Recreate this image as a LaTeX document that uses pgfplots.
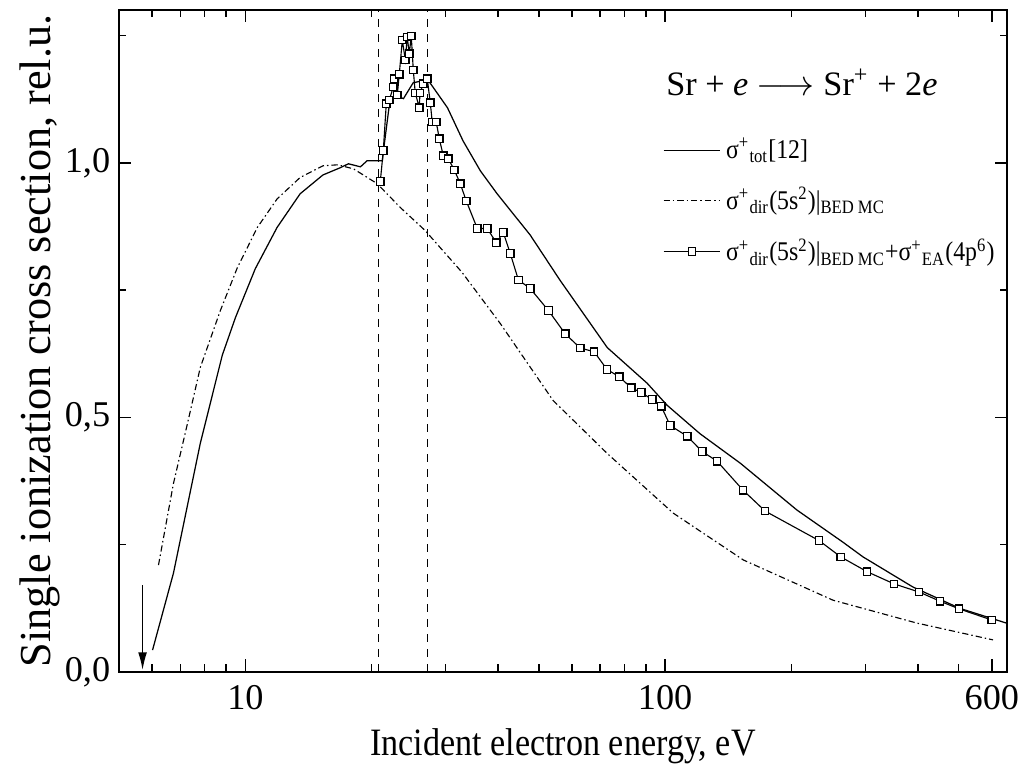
\documentclass[border=0pt]{standalone}
\usepackage{fontspec}
\setmainfont{Liberation Serif}
\newfontfamily\legfont[FakeStretch=0.88]{Liberation Serif}
\usepackage{pgfplots}
\pgfplotsset{compat=1.18}
\usetikzlibrary{arrows.meta,calc}

% open square with a dot in the middle
\pgfdeclareplotmark{sqdot}{%
  \pgfpathrectangle{\pgfpoint{-\pgfplotmarksize}{-\pgfplotmarksize}}{\pgfpoint{2\pgfplotmarksize}{2\pgfplotmarksize}}%
  \pgfusepathqfillstroke
  \pgfpathcircle{\pgfpointorigin}{0.3pt}\pgfusepathqfill}

\newcommand{\sig}{σ\textsuperscript{+}}

\begin{document}
\begin{tikzpicture}
\begin{axis}[
  xmode=log,
  scale only axis, width=355.2pt, height=264.8pt,
  xmin=5, xmax=652, ymin=0, ymax=1.3,
  xtick={10,100,600}, xticklabels={10,100,600},
  minor xtick={6,7,8,9,20,30,40,50,60,70,80,90,200,300,400,500},
  ytick={0,0.5,1}, minor ytick={0.25,0.75,1.25},
  /pgf/number format/assume math mode=true,
  yticklabel={\pgfmathprintnumber[fixed,fixed zerofill,precision=1,use comma]{\tick}},
  tick align=inside,
  major tick length=5pt, minor tick length=3pt,
  axis line style={line width=0.8pt},
  every tick/.style={black, line width=0.6pt},
  tick label style={font=\fontsize{14.5}{16}\selectfont},
  xticklabel style={yshift=-2pt},
  xlabel={Incident electron energy, eV},
  ylabel={Single ionization cross section, rel.u.},
  xlabel style={font=\legfont\fontsize{15.5}{17}\selectfont, at={(axis description cs:0.5,-0.112)}, anchor=center},
  ylabel style={font=\fontsize{17.7}{20}\selectfont, at={(axis description cs:-0.089,0.5)}, anchor=center},
  legend style={draw=none, fill=none, at={(0.612,0.815)}, anchor=north west,
    font=\legfont\fontsize{10.8}{13}\selectfont, row sep=6pt, inner sep=0pt,
    cells={anchor=west}},
  legend image code/.code={\draw[mark repeat=2,mark phase=2,#1]
    plot coordinates {(0cm,0cm) (0.4cm,0cm) (0.8cm,0cm)};},
]
\addplot[black, line width=0.5pt] coordinates {
(6.01,0.043) (6.74,0.194) (7.81,0.449) (8.81,0.622) (9.47,0.696)
(10.56,0.792) (11.9,0.873) (13.5,0.939) (15.3,0.976) (16.8,0.990)
(17.6,0.998) (18.8,0.992) (19.5,1.004) (21.2,1.004) (21.3,1.02)
(22.1,1.123) (22.9,1.131) (23.8,1.126) (25.1,1.157) (26.4,1.161)
(27.1,1.165) (30.3,1.108) (33.0,1.043) (36.3,0.984) (39.8,0.939)
(47.7,0.858) (56.2,0.769) (72.8,0.637) (90.6,0.567) (101,0.524)
(121,0.468) (151,0.41) (206,0.318) (265,0.255) (296,0.226)
(389,0.167) (503,0.125) (650,0.096)};
\addlegendentry{\sig\textsubscript{tot}[12]}

\addplot[black, line width=0.45pt, dash pattern=on 2.5pt off 1.2pt on 0.6pt off 1.2pt] coordinates {
(6.21,0.210) (6.74,0.37) (7.28,0.488) (7.81,0.598) (8.72,0.71)
(9.57,0.794) (10.68,0.873) (11.9,0.929) (13.5,0.971) (15.3,0.994)
(16.6,0.996) (18.1,0.988) (20.6,0.959) (23.4,0.912) (26.8,0.867)
(32.8,0.785) (40.5,0.684) (54.1,0.533) (72.8,0.429) (104.5,0.312)
(153.5,0.220) (251,0.141) (398,0.096) (604,0.063)};
\addlegendentry{\sig\textsubscript{dir}(5s\textsuperscript{2})|\textsubscript{BED MC}}

\addplot[black, line width=0.45pt, mark=sqdot, mark size=1.5pt,
  mark options={solid, fill=white, line width=0.5pt}] coordinates {
(20.96,0.963) (21.31,1.024) (21.66,1.116) (22.02,1.123) (22.51,1.149)
(22.63,1.165) (23.01,1.133) (23.26,1.174) (23.65,1.241) (24.04,1.202)
(24.30,1.247) (24.57,1.214) (24.84,1.249) (25.12,1.182) (25.39,1.137)
(25.96,1.108) (26.05,1.137) (26.54,1.155) (27.12,1.165) (27.57,1.118)
(27.87,1.080) (28.49,1.080) (28.97,1.047) (29.61,1.014) (30.43,1.008)
(31.45,0.986) (32.50,0.959) (33.59,0.925) (35.68,0.871) (37.70,0.871)
(39.60,0.843) (41.15,0.863) (42.75,0.822) (44.7,0.77) (47.7,0.753)
(52.7,0.71) (57.8,0.664) (62.8,0.636) (67.7,0.629) (72.7,0.594)
(77.7,0.58) (83.0,0.558) (87.7,0.549) (93.1,0.535) (97.8,0.522)
(102.8,0.484) (112.8,0.463) (122.5,0.433) (132.9,0.414) (153.3,0.357)
(173,0.316) (232.6,0.258) (262,0.226) (302.6,0.197) (351,0.173)
(402.6,0.157) (451.5,0.139) (501,0.124) (600,0.102)};
\addlegendentry{\sig\textsubscript{dir}(5s\textsuperscript{2})|\textsubscript{BED MC}+\sig\textsubscript{EA}(4p\textsuperscript{6})}

\addplot[black, line width=0.4pt, dashed, forget plot] coordinates {(20.7,0) (20.7,1.3)};
\addplot[black, line width=0.4pt, dashed, forget plot] coordinates {(27.1,0) (27.1,1.3)};

\draw[-{Latex[length=7pt,width=3.5pt]}, line width=0.5pt]
  (axis cs:5.69,0.17) -- (axis cs:5.69,0.004);

\node[font=\fontsize{13.7}{16}\selectfont] at (rel axis cs:0.769,0.89)
  {Sr + \textit{e} $\longrightarrow$ Sr\textsuperscript{+} + 2\textit{e}};

\coordinate (bl) at (rel axis cs:0,0);
\coordinate (tr) at (rel axis cs:1,1);
\end{axis}
\pgfresetboundingbox
\path ($(bl)+(-47.6pt,-38pt)$) rectangle ($(tr)+(4.8pt,4pt)$);
\end{tikzpicture}
\end{document}
